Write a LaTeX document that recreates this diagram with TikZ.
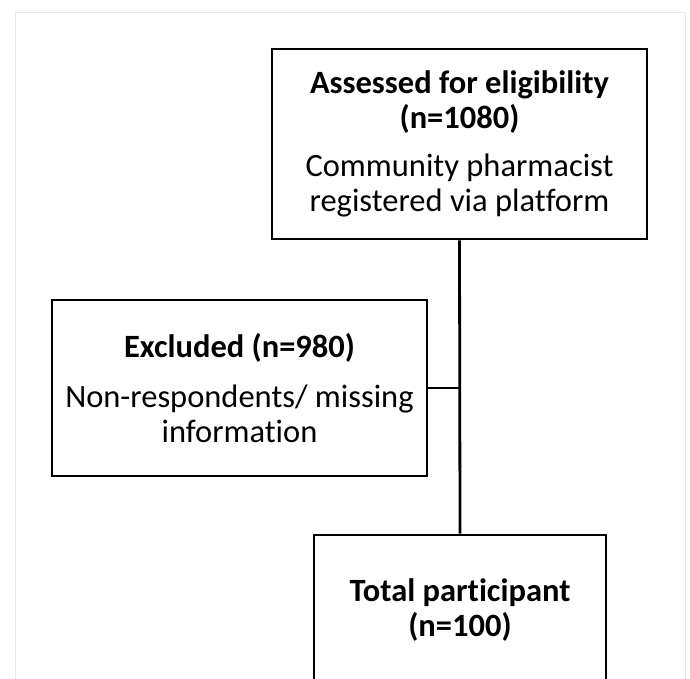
\documentclass[tikz,border=0pt]{standalone}
\usepackage{fontspec}
\setmainfont{Carlito}[Ligatures=NoCommon]
\begin{document}
\begin{tikzpicture}[x=1pt,y=-1pt,
  boxa/.style={draw=black,line width=2.8pt,rectangle,align=center,inner sep=0pt,
    font=\fontsize{32.5}{35}\selectfont},
  conn/.style={draw=black,line width=2.8pt}]
\useasboundingbox (0,0) rectangle (690,678);
\clip (0,0) rectangle (690,678);
\fill[white] (0,0) rectangle (690,678);
\draw[color=black!9,line width=1pt] (15,12) rectangle (685,700);
\node[boxa,minimum width=375pt,minimum height=190pt] (top) at (459.5,144)
  {\textbf{Assessed for eligibility}\\\textbf{(n=1080)}\\[13pt]Community pharmacist\\registered via platform};
\node[boxa,minimum width=375pt,minimum height=176pt] (ex) at (239.5,388)
  {\textbf{Excluded (n=980)}\\[15pt]Non-respondents/ missing\\information};
\node[boxa,minimum width=292pt,minimum height=150pt] (tot) at (460,610)
  {\textbf{Total participant}\\\textbf{(n=100)}};
\draw[conn] (top.south) -- (tot.north);
\draw[conn] (ex.east) -- (ex.east -| top.south);
\end{tikzpicture}
\end{document}
